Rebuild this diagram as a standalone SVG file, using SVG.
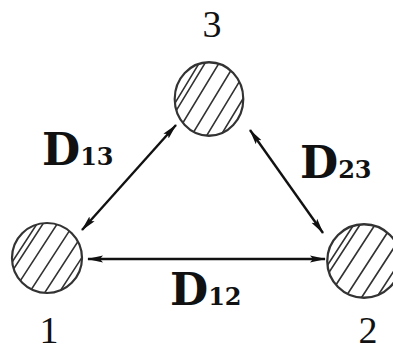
<svg xmlns="http://www.w3.org/2000/svg" xmlns:xlink="http://www.w3.org/1999/xlink" width="393" height="352" viewBox="0 0 393 352">
<style>
.num{font-family:"Liberation Serif",serif;font-size:38px;fill:#111;text-anchor:middle}
.D{font-family:"DejaVu Serif",serif;font-weight:bold;font-size:44px;fill:#111}
.sub{font-size:24px}
.hl{stroke:#333;stroke-width:1.6;fill:none}
.ring{stroke:#333;stroke-width:2.2;fill:none}
.arr{stroke:#111;stroke-width:2.4;fill:none;marker-start:url(#ah);marker-end:url(#ah)}
</style>
<defs>
<marker id="ah" viewBox="0 0 16 8" refX="15" refY="4" markerWidth="16" markerHeight="8" markerUnits="userSpaceOnUse" orient="auto-start-reverse">
<path d="M0,0.5 L16,4 L0,7.5 L3,4 z" fill="#111"/>
</marker>
<clipPath id="cc"><circle r="35"/></clipPath>
<g id="hatch">
<g clip-path="url(#cc)"><g transform="rotate(33)"><path class="hl" d="M-27,-40V40M-22,-40V40M-10,-40V40M4,-40V40M17,-40V40M29,-40V40"/></g></g>
<circle class="ring" r="35"/>
</g>
</defs>
<rect width="393" height="352" fill="#fff"/>
<g id="connectors">
<path class="arr" d="M88,259 L325,259"/>
<path class="arr" d="M82,230 L176,125"/>
<path class="arr" d="M250,130 L323,233"/>
</g>
<g id="node1"><use xlink:href="#hatch" transform="translate(47,258)"/><text class="num" x="49" y="343">1</text></g>
<g id="node2"><use xlink:href="#hatch" transform="translate(364,261) scale(1.05)"/><text class="num" x="368" y="343">2</text></g>
<g id="node3"><use xlink:href="#hatch" transform="translate(209,99) scale(0.98,1.05)"/><text class="num" x="212" y="37">3</text></g>
<g id="label13"><text class="D" x="42" y="165">D<tspan class="sub">13</tspan></text></g>
<g id="label23"><text class="D" x="300" y="178">D<tspan class="sub">23</tspan></text></g>
<g id="label12"><text class="D" x="170" y="305">D<tspan class="sub">12</tspan></text></g>
</svg>
